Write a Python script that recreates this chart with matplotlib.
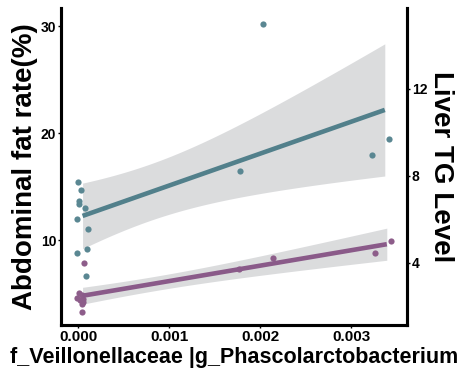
import numpy as np
import matplotlib
matplotlib.use("Agg")
import matplotlib.pyplot as plt

plt.rcParams['font.family'] = ['Liberation Sans', 'DejaVu Sans']
plt.rcParams['font.weight'] = 'bold'

# Data: relative abundance of f_Veillonellaceae|g_Phascolarctobacterium
fat_x = [0.000003, 0.000030, 0.000010, 0.000010, 0.000075, -0.000015, 0.000105,
         0.000100, -0.000015, 0.000090, 0.00178, 0.002036, 0.003227, 0.003421]
fat_y = [15.45, 14.67, 13.7, 13.4, 13.0, 11.96, 11.03,
         9.19, 8.76, 6.67, 16.48, 30.25, 17.94, 19.44]

tg_x = [0.000070, 0.000010, 0.000040, -0.000010, 0.000020, 0.000050, 0.000040,
        0.000060, 0.000045, 0.001773, 0.002147, 0.003260, 0.003443]
tg_y = [3.99, 2.62, 2.55, 2.40, 2.30, 2.20, 2.12,
        2.35, 1.76, 3.72, 4.22, 4.46, 5.03]

fat_color = '#52808b'
fat_point = '#5a8792'
tg_color = '#8a5a89'
tg_point = '#8d5d8a'
band_color = '#d5d6d8'

xticks = [0.000, 0.001, 0.002, 0.003]
left_ticks = [10, 20, 30]
right_ticks = [4, 8, 12]


def t975(df):
    z = 1.959964
    return (z + (z**3 + z) / (4 * df) + (5 * z**5 + 16 * z**3 + 3 * z) / (96 * df**2)
            + (3 * z**7 + 19 * z**5 + 17 * z**3 - 15 * z) / (384 * df**3))


def fit_band(x, y, n=80):
    x = np.asarray(x); y = np.asarray(y)
    b, a = np.polyfit(x, y, 1)
    xs = np.linspace(0.00005, x.max() - 0.00005, n)
    res = y - (a + b * x)
    df = len(x) - 2
    s = np.sqrt(np.sum(res**2) / df)
    sxx = np.sum((x - x.mean())**2)
    se = s * np.sqrt(1 / len(x) + (xs - x.mean())**2 / sxx)
    yh = a + b * xs
    t = t975(df)
    return xs, yh, yh - t * se, yh + t * se


fig = plt.figure(figsize=(4.62, 3.71), dpi=100)
ax = fig.add_axes([61 / 462, 1 - 325 / 371, (407 - 61) / 462, (325 - 8) / 371])
ax2 = ax.twinx()

ax.set_xlim(-0.000187, 0.003615)
ax.set_ylim(2.06, 31.7)
ax2.set_ylim(1.15, 15.72)

ax.scatter(fat_x, fat_y, s=20, color=fat_point, zorder=2, linewidths=0)
xs, yh, lo, hi = fit_band(fat_x, fat_y)
ax.fill_between(xs, lo, hi, color=band_color, alpha=0.85, zorder=1, linewidth=0)
ax.plot(xs, yh, color=fat_color, lw=3.3, zorder=3, solid_capstyle='butt')

ax2.scatter(tg_x, tg_y, s=20, color=tg_point, zorder=2, linewidths=0)
xs, yh, lo, hi = fit_band(tg_x, tg_y)
ax2.fill_between(xs, lo, hi, color=band_color, alpha=0.85, zorder=1, linewidth=0)
ax2.plot(xs, yh, color=tg_color, lw=3.3, zorder=3, solid_capstyle='butt')

for a in (ax, ax2):
    a.spines['top'].set_visible(False)
    for sp in ('left', 'right', 'bottom'):
        a.spines[sp].set_linewidth(2.2)
        a.spines[sp].set_color('black')

ax.set_xticks(xticks)
ax.set_xticklabels([f"{v:.3f}" for v in xticks], fontsize=11, fontweight='bold')
ax.set_yticks(left_ticks)
ax.set_yticklabels([str(v) for v in left_ticks], fontsize=10, fontweight='bold')
ax2.set_yticks(right_ticks)
ax2.set_yticklabels([str(v) for v in right_ticks], fontsize=10, fontweight='bold')
ax.tick_params(axis='both', length=2.5, width=1, pad=1)
ax2.tick_params(axis='y', length=2.5, width=1, pad=1)

ax.set_xlabel('f_Veillonellaceae |g_Phascolarctobacterium', fontsize=15.5,
              fontweight='bold', labelpad=2)
ax.set_ylabel('Abdominal fat rate(%)', fontsize=20, fontweight='bold', labelpad=2)
ax2.set_ylabel('Liver TG Level', fontsize=20, fontweight='bold', rotation=-90,
               labelpad=19)

fig.savefig('out.png', dpi=100)
